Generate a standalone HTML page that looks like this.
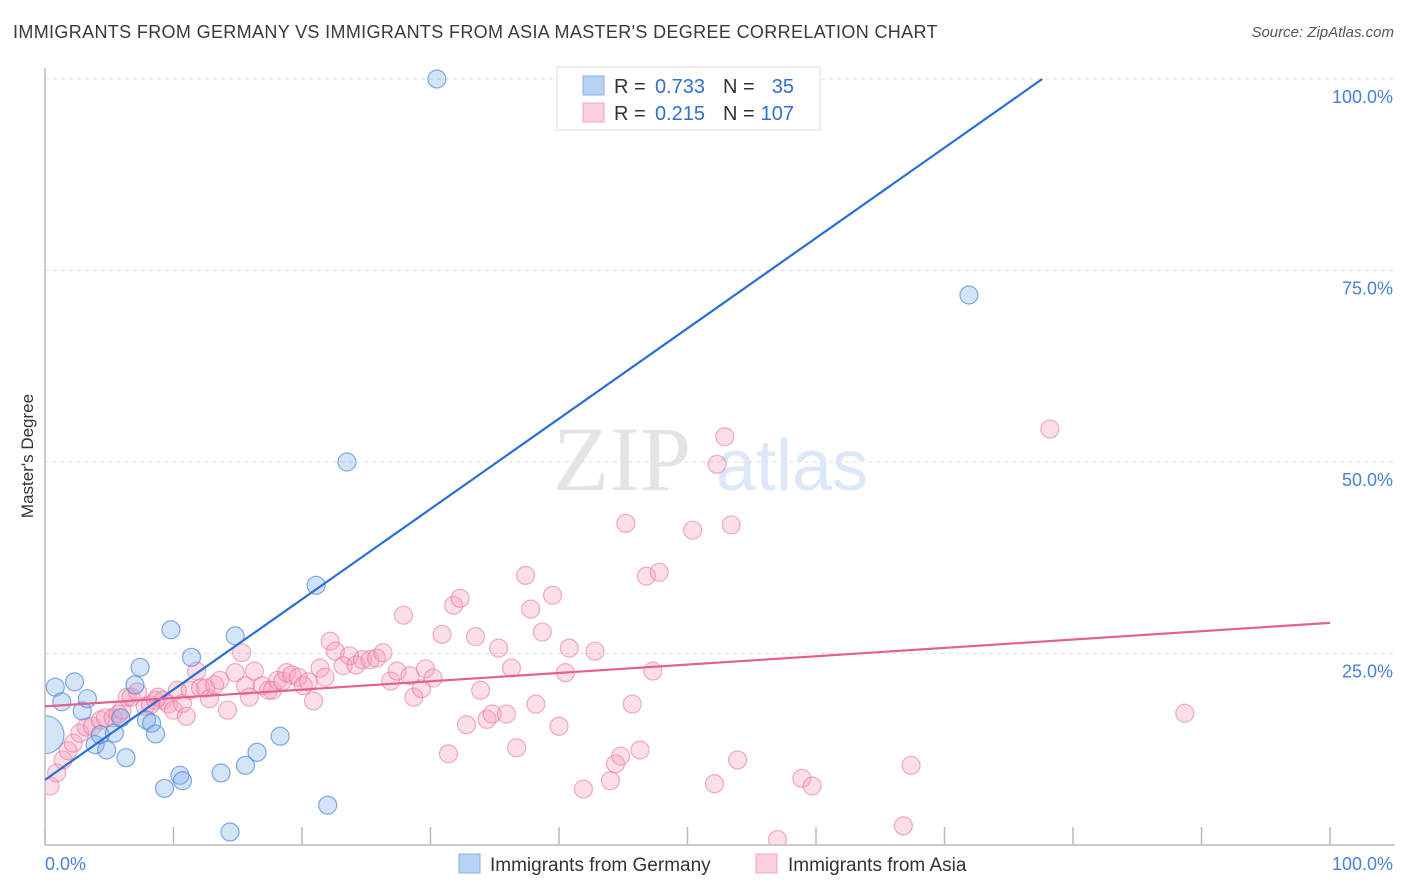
<!DOCTYPE html>
<html><head><meta charset="utf-8">
<style>
body{margin:0;background:#fff;font-family:"Liberation Sans",sans-serif;}
#wrap{position:relative;width:1406px;height:892px;overflow:hidden;}
.title{position:absolute;left:13px;top:22px;font-size:18px;color:#3a3a3a;letter-spacing:0.35px}
.source{position:absolute;right:12px;top:24px;font-size:15px;color:#555;font-style:italic}
</style></head>
<body>
<div id="wrap">
<div class="title">IMMIGRANTS FROM GERMANY VS IMMIGRANTS FROM ASIA MASTER'S DEGREE CORRELATION CHART</div>
<div class="source">Source: ZipAtlas.com</div>
<svg id="svg" width="1406" height="892" style="position:absolute;left:0;top:0"></svg>
</div>
<script>
const blueX=[0,0.8,1.3,2.3,2.9,3.3,3.9,4.3,4.8,5.4,5.9,6.3,7.0,7.4,7.9,8.3,8.6,9.3,9.8,10.5,10.7,11.4,13.7,14.4,14.8,15.6,16.5,18.3,21.1,22.0,23.5,30.5,71.9,50.4];
const blueY=[14.4,20.6,18.7,21.3,17.5,19.1,13.1,14.4,12.4,14.6,16.6,11.4,20.9,23.2,16.3,15.9,14.5,7.4,28.1,9.1,8.4,24.5,9.4,1.7,27.3,10.4,12.1,14.2,33.9,5.2,50.0,100,71.8,100.4];
const pinkX=[0.4,0.9,1.4,1.8,2.2,2.7,3.2,3.7,4.3,4.7,5.3,5.7,6.0,6.4,6.7,7.2,7.8,8.2,8.6,8.8,9.2,9.6,10.0,10.3,10.7,11.0,11.3,11.8,12.1,12.5,12.8,13.2,13.6,14.2,14.8,15.3,15.6,15.9,16.3,16.9,17.4,17.7,18.1,18.5,18.8,19.2,19.7,20.1,20.5,20.9,21.4,21.8,22.2,22.6,23.2,23.7,24.2,24.7,25.3,25.8,26.3,26.9,27.4,27.9,28.4,28.7,29.3,29.6,30.2,30.9,31.4,31.8,32.3,32.8,33.5,33.9,34.4,34.8,35.3,35.9,36.3,36.7,37.4,37.8,38.2,38.7,39.5,40.0,40.5,40.8,41.9,42.8,44.0,44.4,44.8,45.2,45.7,46.3,46.8,47.8,47.3,50.4,52.1,52.3,52.9,53.4,53.9,57.0,58.9,59.7,66.8,67.4,78.2,88.7];
const pinkY=[7.7,9.4,11.1,12.3,13.3,14.6,15.4,15.5,16.3,16.6,16.6,17.1,17.6,19.3,19.3,20.0,18.1,18.3,18.9,19.3,18.9,18.4,17.6,20.2,18.5,16.8,20.2,22.7,20.5,20.5,19.1,20.9,21.5,17.6,22.5,25.1,20.8,19.3,22.7,20.8,20.2,20.2,21.5,21.4,22.5,22.2,21.9,20.8,21.3,18.8,23.1,21.9,26.6,25.3,23.4,24.7,23.5,24.2,24.2,24.4,25.1,21.4,22.7,30.0,22.1,19.3,20.4,23.0,21.8,27.5,11.9,31.3,32.2,15.7,27.2,20.2,16.4,17.1,25.7,17.1,23.1,12.7,35.2,30.8,18.4,27.8,32.6,15.5,22.5,25.7,7.3,25.3,8.4,10.6,11.6,42.0,18.4,12.4,35.1,35.6,22.7,41.1,8.0,49.7,53.3,41.8,11.1,0.7,8.7,7.7,2.5,10.4,54.3,17.2];
const blueTrend=[8.5,126.4]; // y at x=0, x=100
const pinkTrend=[18.1,29.0];
const yTicks=[25,50,75,100];
const yTickLabels=["25.0%","50.0%","75.0%","100.0%"];
const xTicks=[0,10,20,30,40,50,60,70,80,90,100];

const X0=45,X1=1330,Y0=845,Y1=79;
const sx=v=>X0+(X1-X0)*v/100;
const sy=v=>Y0-(Y0-Y1)*v/100;
const NS="http://www.w3.org/2000/svg";
const svg=document.getElementById('svg');
function mk(t,a,p){const e=document.createElementNS(NS,t);for(const k in a)e.setAttribute(k,a[k]);(p||svg).appendChild(e);return e;}

const defs=mk('defs',{});
const cp=mk('clipPath',{id:'pc'},defs);
mk('rect',{x:X0,y:60,width:X1-X0+80,height:Y0-60},cp);

yTicks.forEach((t,i)=>{
  const g=mk('line',{x1:X0,x2:1395,y1:sy(t),y2:sy(t),stroke:'#dcdcdc','stroke-dasharray':'4,4','stroke-width':1});
  
  
  const tx=mk('text',{x:1393,y:sy(t)+24,'text-anchor':'end','font-size':18,fill:'#4a7fd6'});
  tx.textContent=yTickLabels[i];
  
  
});
const wm=mk('text',{x:553,y:490,'font-size':92,fill:'#e4e4e4','font-family':'Liberation Serif,serif'});
wm.textContent='ZIP';


const wm2=mk('text',{x:716,y:490,'font-size':72,fill:'#dce8f7'});
wm2.textContent='atlas';



const gp=mk('g',{'clip-path':'url(#pc)'});
pinkX.forEach((x,i)=>{
  const c=mk('circle',{cx:sx(x),cy:sy(pinkY[i]),r:9,fill:'rgba(246,160,190,0.35)',stroke:'rgba(230,120,160,0.6)','stroke-width':1.2},gp);
  
  
});
blueX.forEach((x,i)=>{
  const c=mk('circle',{cx:sx(x),cy:sy(blueY[i]),r:(i===0?19:9),fill:'rgba(130,175,235,0.35)',stroke:'rgba(80,135,215,0.7)','stroke-width':1.2},gp);
  
  
});
const ya=mk('line',{x1:X0,x2:X0,y1:68,y2:Y0,stroke:'#bbb','stroke-width':1.5});


const xa=mk('line',{x1:X0,x2:1395,y1:Y0,y2:Y0,stroke:'#bbb','stroke-width':1.5});


xTicks.forEach(t=>{
  const l=mk('line',{x1:sx(t),x2:sx(t),y1:827,y2:Y0,stroke:'#bbb','stroke-width':1.5});
  
  
});
const bEnd=(100-blueTrend[0])/(blueTrend[1]-blueTrend[0])*100;
const bl=mk('line',{x1:sx(0),y1:sy(blueTrend[0]),x2:sx(bEnd),y2:sy(100),stroke:'#2a6fd6','stroke-width':2.2});


const pl=mk('line',{x1:sx(0),y1:sy(pinkTrend[0]),x2:sx(100),y2:sy(pinkTrend[1]),stroke:'#e4618f','stroke-width':2.2});



const x0l=mk('text',{x:45,y:870,'font-size':18,fill:'#4a7fd6'});x0l.textContent='0.0%';


const x1l=mk('text',{x:1393,y:870,'font-size':18,fill:'#4a7fd6','text-anchor':'end'});x1l.textContent='100.0%';


const yt=mk('text',{x:0,y:0,'font-size':17,fill:'#333','text-anchor':'middle',transform:'translate(33,456) rotate(-90)'});yt.textContent="Master's Degree";



const lg=mk('g',{});


mk('rect',{x:557,y:67,width:263,height:63,fill:'#fff',stroke:'#ddd'},lg);
mk('rect',{x:583,y:76,width:21,height:19,fill:'#b8d2f5',stroke:'#8ab0e6'},lg);
mk('rect',{x:583,y:103,width:21,height:19,fill:'#fbcfdd',stroke:'#f0a6bf'},lg);
function t(x,y,s,c,a){const e=mk('text',{x:x,y:y,'font-size':20,fill:c,'text-anchor':a||'start'},lg);e.textContent=s;return e;}
t(614,93,'R =','#333');t(705,93,'0.733','#2f6fcf','end');t(723,93,'N =','#333');t(794,93,'35','#2f6fcf','end');
t(614,120,'R =','#333');t(705,120,'0.215','#2f6fcf','end');t(723,120,'N =','#333');t(794,120,'107','#2f6fcf','end');

const bl1=mk('rect',{x:459,y:854,width:21,height:19,fill:'#b8d2f5',stroke:'#8ab0e6'});


const bt1=mk('text',{x:490,y:871,'font-size':19,fill:'#333'});bt1.textContent='Immigrants from Germany';


const bl2=mk('rect',{x:756,y:854,width:21,height:19,fill:'#fbcfdd',stroke:'#f0a6bf'});


const bt2=mk('text',{x:788,y:871,'font-size':19,fill:'#333'});bt2.textContent='Immigrants from Asia';


</script>
</body></html>
